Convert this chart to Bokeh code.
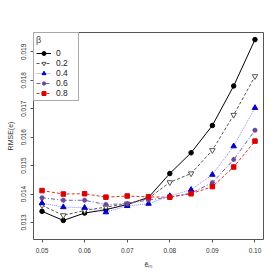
from bokeh.plotting import figure
from bokeh.models import FixedTicker, NumeralTickFormatter, Range1d
from bokeh.embed import file_html
from bokeh.resources import INLINE

x = [0.05, 0.055, 0.06, 0.065, 0.07, 0.075, 0.08, 0.085, 0.09, 0.095, 0.10]
beta_labels = ["0", "0.2", "0.4", "0.6", "0.8"]
rmse_b0 = [0.01339, 0.01307, 0.01333, 0.01345, 0.01363, 0.01388, 0.01472, 0.01545, 0.01641, 0.01780, 0.01943]
rmse_b2 = [0.01360, 0.01325, 0.01342, 0.01354, 0.01366, 0.01385, 0.01441, 0.01472, 0.01554, 0.01678, 0.01814]
rmse_b4 = [0.01368, 0.01354, 0.01352, 0.01336, 0.01358, 0.01366, 0.01393, 0.01415, 0.01468, 0.01568, 0.01703]
rmse_b6 = [0.01387, 0.01378, 0.01378, 0.01363, 0.01366, 0.01379, 0.01389, 0.01403, 0.01440, 0.01521, 0.01624]
rmse_b8 = [0.01412, 0.01400, 0.01401, 0.01389, 0.01393, 0.01390, 0.01389, 0.01401, 0.01426, 0.01495, 0.01586]
x_ticks = [0.05, 0.06, 0.07, 0.08, 0.09, 0.10]
y_ticks = [0.013, 0.014, 0.015, 0.016, 0.017, 0.018, 0.019]

p = figure(width=280, height=280, output_backend="svg", toolbar_location=None,
           x_range=Range1d(0.048, 0.102), y_range=Range1d(0.0124, 0.01968),
           min_border_left=33, min_border_right=17, min_border_top=32, min_border_bottom=41)

FONT = "Liberation Sans"
series = [
    (rmse_b0, "black", "black", "circle", "black", "solid", 4.5, 1),
    (rmse_b2, "#555555", "#555555", "inverted_triangle", None, "3 2", 5.5, 1),
    (rmse_b4, "#8c8cff", "#0000cc", "triangle", "#0000cc", "1 1", 5.5, 1),
    (rmse_b6, "#7a5aa8", "#6a4a9a", "asterisk", "#6a4a9a", "4 2 1 2", 5, 1.4),
    (rmse_b8, "#e03030", "#dd0000", "square", "#dd0000", "3 2", 4.5, 1),
]
for (ys, lc, mc, mk, fc, dash, sz, mlw), lab in zip(series, beta_labels):
    p.line(x, ys, line_color=lc, line_width=1, line_dash=dash, legend_label=lab)
    p.scatter(x, ys, marker=mk, size=sz, line_color=mc, line_width=mlw,
              fill_color=fc if fc else "white", legend_label=lab)

p.grid.visible = False
p.outline_line_color = "#555555"
p.outline_line_width = 1
p.background_fill_color = "white"
p.border_fill_color = "white"

for ax in (p.xaxis[0], p.yaxis[0]):
    ax.axis_line_color = None
    ax.major_tick_line_color = "#555555"
    ax.major_tick_out = 3
    ax.major_tick_in = 0
    ax.minor_tick_line_color = None
    ax.major_label_text_font = FONT
    ax.major_label_text_font_size = "6.5px"
    ax.major_label_text_color = "#333333"
    ax.axis_label_text_font = FONT
    ax.axis_label_text_font_size = "7px"
    ax.axis_label_text_font_style = "normal"
    ax.axis_label_text_color = "#333333"

p.xaxis.ticker = FixedTicker(ticks=x_ticks)
p.xaxis.formatter = NumeralTickFormatter(format="0.00")
p.xaxis.major_label_standoff = 5
p.xaxis.axis_label = "ẽₘ"
p.xaxis.axis_label_standoff = 5

p.yaxis.ticker = FixedTicker(ticks=y_ticks)
p.yaxis.formatter = NumeralTickFormatter(format="0.000")
p.yaxis.major_label_orientation = "vertical"
p.yaxis.major_label_standoff = 4
p.yaxis.axis_label = "RMSE(e)"
p.yaxis.axis_label_standoff = 5

lg = p.legend[0]
lg.location = "top_left"
lg.margin = 0
lg.padding = 2
lg.spacing = 0
lg.label_height = 10
lg.glyph_height = 10
lg.glyph_width = 15
lg.label_standoff = 5
lg.label_text_font = FONT
lg.label_text_font_size = "8.5px"
lg.label_text_color = "#222222"
lg.title = "β"
lg.title_text_font = FONT
lg.title_text_font_size = "9px"
lg.title_text_font_style = "normal"
lg.title_standoff = 3
lg.border_line_color = "#555555"
lg.border_line_width = 1
lg.background_fill_color = "white"
lg.background_fill_alpha = 1

open("out.html", "w").write(file_html(p, INLINE))
